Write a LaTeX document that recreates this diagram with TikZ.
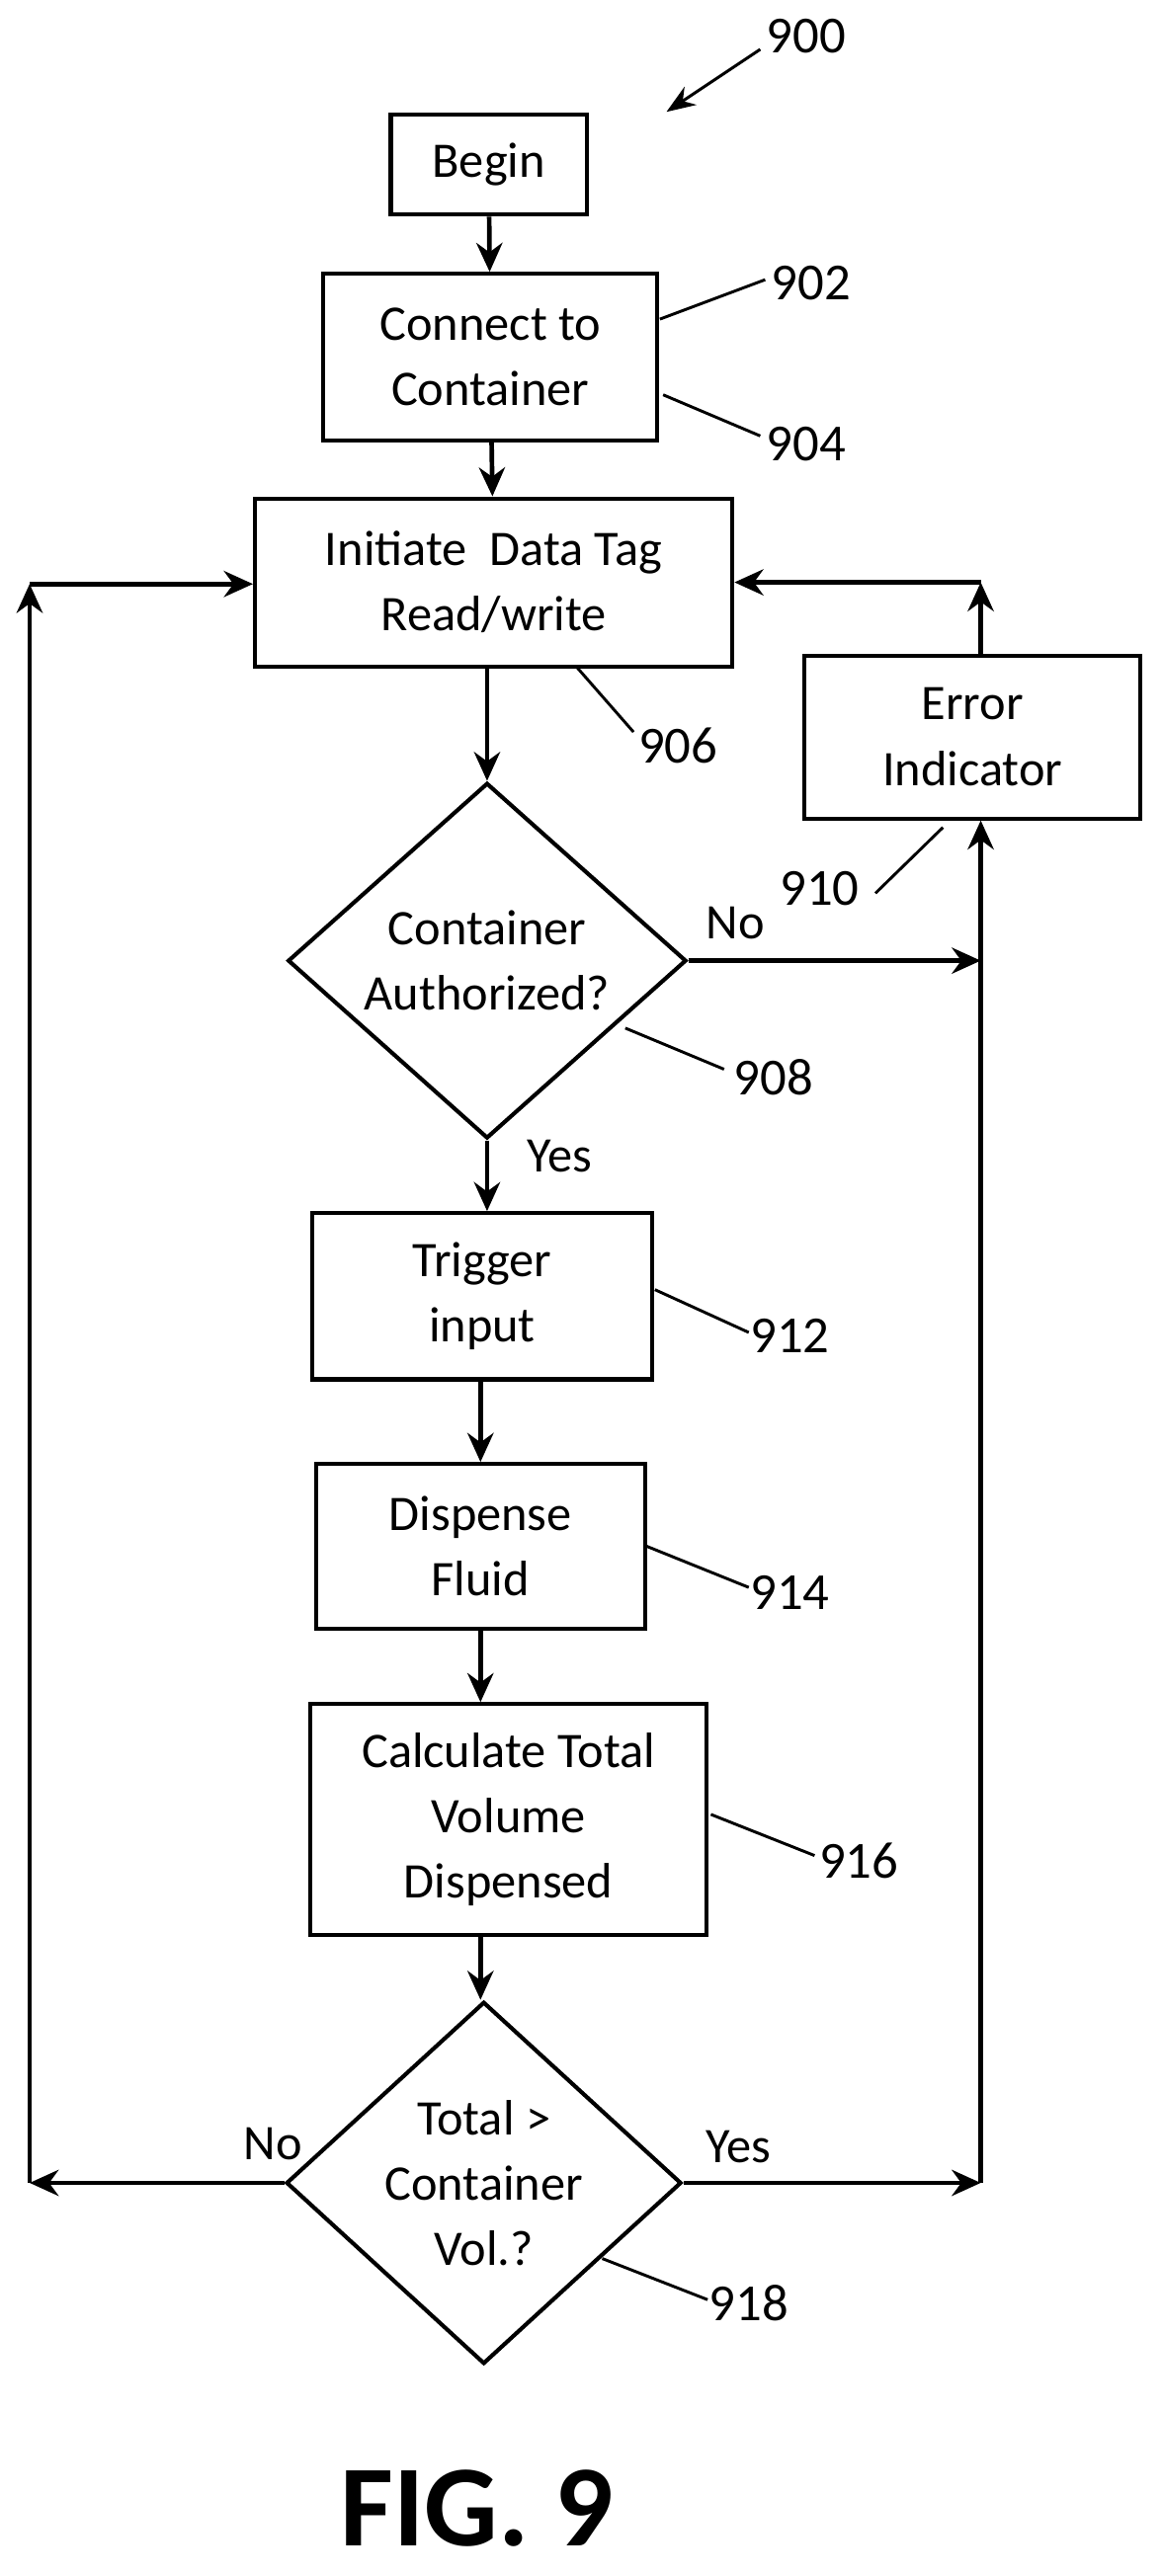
\documentclass[tikz,border=0pt]{standalone}
\usepackage{fontspec}
\setmainfont{Carlito}
\usetikzlibrary{shapes.geometric,arrows.meta}
\tikzset{box/.style={rectangle,draw,line width=0.7pt,align=center,inner sep=0pt},
  dec/.style={diamond,draw,line width=0.7pt,align=center,inner sep=0pt,aspect=1.1},
  flow/.style={line width=0.8pt,-{Stealth[length=5pt,width=4.5pt]}},
  lead/.style={line width=0.5pt},
  num/.style={font=\fontsize{9}{11}\selectfont}}
\begin{document}
\begin{tikzpicture}[x=0.01cm,y=-0.01cm,font=\fontsize{8.6}{11.3}\selectfont]
  \useasboundingbox (0,0) rectangle (706,1566);
  \node[box,minimum width=1.19cm,minimum height=0.61cm] (begin) at (297,100) {Begin};
  \node[box,minimum width=2.03cm,minimum height=1.01cm] (connect) at (298,217) {Connect to\\Container};
  \node[box,minimum width=2.9cm,minimum height=1.02cm] (init) at (300,354) {Initiate\ \ Data Tag\\Read/write};
  \node[box,minimum width=2.04cm,minimum height=0.99cm] (error) at (591,448) {Error\\Indicator};
  \node[dec,minimum width=2.42cm,minimum height=2.16cm] (auth) at (296,584) {Container\\Authorized?};
  \node[box,minimum width=2.06cm,minimum height=1.01cm] (trigger) at (293,788) {Trigger\\input};
  \node[box,minimum width=2.0cm,minimum height=1.0cm] (dispense) at (292,940) {Dispense\\Fluid};
  \node[box,minimum width=2.41cm,minimum height=1.4cm] (calc) at (309,1106) {Calculate Total\\Volume\\Dispensed};
  \node[dec,minimum width=2.4cm,minimum height=2.2cm] (total) at (294,1327) {Total >\\Container\\Vol.?};
  \coordinate (lb) at (18,1327);
  \coordinate (lt) at (18,355);
  \coordinate (rm) at (596,584);
  \coordinate (rb) at (596,1327);
  \coordinate (rt) at (596,354);
  % main flow
  \draw[flow] (begin) -- (connect);
  \draw[flow] (connect) -- (init);
  \draw[flow] (init.south -| 296,0) -- (auth.north);
  \draw[flow] (auth.south) -- (auth.south |- trigger.north);
  \draw[flow] (trigger.south -| 292,0) -- (dispense.north -| 292,0);
  \draw[flow] (dispense.south) -- (dispense.south |- calc.north);
  \draw[flow] (calc.south -| 292,0) -- (total.north -| 292,0);
  % loops
  \draw[flow] (total.west) -- (lb);
  \draw[flow] (lb) -- (lt);
  \draw[flow] (lt) -- (init.west |- lt);
  \draw[flow] (auth.east) -- (rm);
  \draw[flow] (total.east) -- (rb);
  \draw[flow] (rb) -- (error.south -| rb);
  \draw[flow] (error.north -| rb) -- (rt);
  \draw[flow] (rt) -- (init.east |- rt);
  \node (no1) at (447,561) {No};
  \node (yes1) at (340,703) {Yes};
  \node (no2) at (166,1303) {No};
  \node (yes2) at (449,1305) {Yes};
  % reference numbers
  \node[num] (n900) at (490,22) {900};
  \draw[lead,-{Stealth[length=5pt]}] (462,30) -- (405,68);
  \node[num] (n902) at (493,172) {902};
  \draw[lead] (401,194) -- (465,170);
  \node[num] (n904) at (490,270) {904};
  \draw[lead] (403,240) -- (462,265);
  \node[num] (n906) at (412,453) {906};
  \draw[lead] (350,405) -- (385,445);
  \node[num] (n910) at (498,540) {910};
  \draw[lead] (532,543) -- (573,503);
  \node[num] (n908) at (470,655) {908};
  \draw[lead] (380,625) -- (440,650);
  \node[num] (n912) at (480,812) {912};
  \draw[lead] (398,784) -- (455,810);
  \node[num] (n914) at (480,968) {914};
  \draw[lead] (393,940) -- (455,965);
  \node[num] (n916) at (522,1131) {916};
  \draw[lead] (432,1103) -- (495,1128);
  \node[num] (n918) at (455,1400) {918};
  \draw[lead] (366,1373) -- (430,1398);
  \node[font=\fontsize{20}{23}\selectfont\bfseries] (fig) at (290,1525) {FIG. 9};
\end{tikzpicture}
\end{document}
